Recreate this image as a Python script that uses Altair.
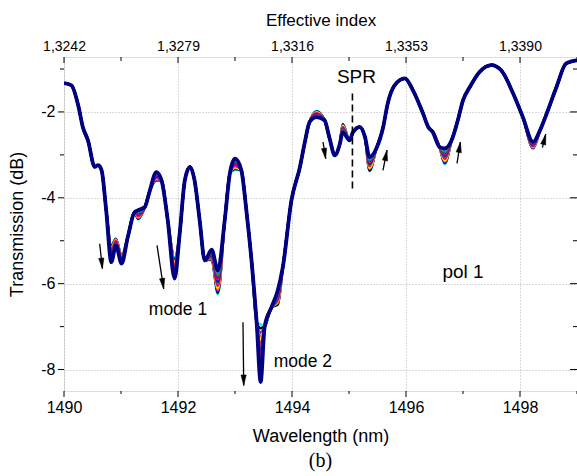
import math
import altair as alt
import pandas as pd

# ---------------- data ----------------
wavelength = [1490.00, 1490.13, 1490.25, 1490.33, 1490.42, 1490.54, 1490.60, 1490.66, 1490.74, 1490.83,
              1490.91, 1491.01, 1491.12, 1491.24, 1491.30, 1491.42, 1491.50, 1491.62, 1491.71, 1491.82,
              1491.94, 1492.03, 1492.12, 1492.21, 1492.29, 1492.38, 1492.47, 1492.59, 1492.70, 1492.82,
              1492.91, 1493.00, 1493.11, 1493.20, 1493.29, 1493.38, 1493.45, 1493.52, 1493.64, 1493.75,
              1493.84, 1493.99, 1494.14, 1494.22, 1494.31, 1494.43, 1494.57, 1494.66, 1494.75, 1494.84,
              1494.89, 1495.01, 1495.07, 1495.19, 1495.28, 1495.36, 1495.48, 1495.60, 1495.68, 1495.80,
              1495.98, 1496.12, 1496.30, 1496.39, 1496.47, 1496.59, 1496.68, 1496.80, 1496.91, 1497.00,
              1497.12, 1497.29, 1497.50, 1497.67, 1497.88, 1498.05, 1498.23, 1498.35, 1498.49, 1498.64,
              1498.81, 1499.00]

final_spectrum = [-1.33, -1.38, -1.85, -2.35, -2.66, -3.28, -3.24, -3.36, -4.29, -5.50,
                  -5.11, -5.53, -4.91, -4.33, -4.29, -4.21, -3.86, -3.40, -3.59, -4.52,
                  -5.88, -4.83, -3.59, -3.28, -3.59, -4.52, -5.46, -5.21, -5.69, -4.52,
                  -3.43, -3.09, -3.35, -4.30, -5.46, -6.90, -8.29, -7.00, -6.55, -6.16,
                  -5.61, -4.06, -3.28, -2.74, -2.23, -2.12, -2.19, -2.62, -3.01, -2.74,
                  -2.47, -2.66, -2.47, -2.35, -2.58, -3.05, -2.85, -2.35, -1.80, -1.38,
                  -1.22, -1.49, -2.04, -2.35, -2.47, -2.82, -2.85, -2.66, -2.19, -1.73,
                  -1.42, -1.07, -0.91, -1.03, -1.57, -2.12, -2.70, -2.43, -1.96, -1.42,
                  -0.87, -0.80]

# wavelengths where the earlier spectra differ from the final one
feature_wl = [1490.83, 1490.91, 1491.01, 1491.30, 1491.62, 1491.94, 1492.59, 1492.70,
              1493.00, 1493.45, 1493.75, 1494.43, 1494.89, 1495.36, 1496.68, 1498.23]

# values of the earlier spectra at those wavelengths (first spectrum -> later)
series_feature_values = [
    [-5.10, -4.95, -5.35, -4.50, -3.60, -5.40, -5.45, -6.25, -3.35, -6.95, -6.50, -1.98, -2.28, -3.38, -3.22, -2.85],
    [-5.13, -4.96, -5.36, -4.49, -3.59, -5.43, -5.43, -6.21, -3.33, -7.04, -6.48, -1.99, -2.29, -3.36, -3.19, -2.84],
    [-5.16, -4.97, -5.38, -4.47, -3.57, -5.47, -5.42, -6.17, -3.31, -7.14, -6.45, -2.00, -2.31, -3.33, -3.17, -2.83],
    [-5.18, -4.98, -5.39, -4.46, -3.56, -5.50, -5.40, -6.13, -3.30, -7.23, -6.43, -2.01, -2.32, -3.31, -3.14, -2.82],
    [-5.21, -5.00, -5.40, -4.44, -3.54, -5.53, -5.38, -6.09, -3.28, -7.33, -6.40, -2.02, -2.33, -3.29, -3.12, -2.81],
    [-5.24, -5.01, -5.41, -4.43, -3.53, -5.57, -5.37, -6.05, -3.26, -7.42, -6.38, -2.03, -2.35, -3.26, -3.09, -2.80],
    [-5.27, -5.02, -5.43, -4.41, -3.52, -5.60, -5.35, -6.01, -3.24, -7.51, -6.36, -2.04, -2.36, -3.24, -3.06, -2.79],
    [-5.30, -5.03, -5.44, -4.40, -3.50, -5.64, -5.33, -5.98, -3.22, -7.61, -6.33, -2.05, -2.37, -3.22, -3.04, -2.78],
    [-5.32, -5.04, -5.45, -4.38, -3.49, -5.67, -5.32, -5.94, -3.20, -7.70, -6.31, -2.06, -2.39, -3.20, -3.01, -2.77],
    [-5.35, -5.05, -5.46, -4.37, -3.47, -5.70, -5.30, -5.90, -3.19, -7.79, -6.29, -2.07, -2.40, -3.17, -2.99, -2.76],
    [-5.38, -5.06, -5.48, -4.35, -3.46, -5.74, -5.28, -5.86, -3.17, -7.89, -6.26, -2.08, -2.41, -3.15, -2.96, -2.75],
    [-5.41, -5.07, -5.49, -4.34, -3.45, -5.77, -5.27, -5.82, -3.15, -7.98, -6.24, -2.09, -2.43, -3.13, -2.94, -2.73],
    [-5.44, -5.08, -5.50, -4.32, -3.43, -5.80, -5.25, -5.78, -3.13, -8.08, -6.21, -2.10, -2.44, -3.10, -2.91, -2.72],
    [-5.46, -5.10, -5.51, -4.31, -3.42, -5.84, -5.23, -5.74, -3.11, -8.17, -6.19, -2.11, -2.45, -3.08, -2.88, -2.71],
]
series_colors = ["#00FFFF", "#000000", "#8000FF", "#FF8000", "#FFFF00", "#FF0000", "#FF00FF",
                 "#008000", "#0000FF", "#FF0080", "#800080", "#008080", "#808000", "#0080FF"]
final_color = "#000080"

major_wl = [1490, 1492, 1494, 1496, 1498]
minor_wl = [1491, 1493, 1495, 1497, 1499]
major_t = [-8, -6, -4, -2]
minor_t = [-7, -5, -3, -1]
top_tick_labels = ["1,3242", "1,3279", "1,3316", "1,3353", "1,3390"]

arrow_x0 = [1490.626, 1491.632, 1493.140, 1494.544, 1495.596, 1496.895, 1498.393]
arrow_y0 = [-5.07, -5.11, -6.90, -2.70, -3.36, -3.20, -2.83]
arrow_x1 = [1490.674, 1491.749, 1493.153, 1494.591, 1495.667, 1496.954, 1498.451]
arrow_y1 = [-5.65, -6.12, -8.37, -3.09, -2.89, -2.70, -2.52]

spr_wl = [1495.06]
spr_top = [-1.57]
spr_bottom = [-3.83]

label_text = ["SPR", "mode 1", "mode 2", "pol 1"]
label_wl = [1495.13, 1492.00, 1494.19, 1497.00]
label_t = [-1.18, -6.62, -7.83, -5.72]
label_size = [19, 17.5, 17.5, 19]

# ---------------- chart ----------------
W, H = 513, 334
X_DOM = [1490, 1499]
Y_DOM = [-8.5, -0.72]
FONT = "Liberation Sans"

xs = alt.Scale(domain=X_DOM, nice=False, zero=False)
ys = alt.Scale(domain=Y_DOM, nice=False, zero=False)

rows = []
for i, vals in enumerate(series_feature_values):
    spec = list(final_spectrum)
    for fw, v in zip(feature_wl, vals):
        spec[wavelength.index(fw)] = v
    for w, t in zip(wavelength, spec):
        rows.append({"wl": w, "t": t, "s": i})
df_series = pd.DataFrame(rows)
df_final = pd.DataFrame({"wl": wavelength, "t": final_spectrum})

grid_kw = dict(grid=True, gridDash=[1, 2], gridColor="#b5b5b5", gridWidth=1)
txt_kw = dict(labelFont=FONT, titleFont=FONT, labelColor="black", titleColor="black",
              titleFontWeight="normal", labelFontWeight="normal")

bottom_axis = alt.Axis(values=major_wl, format="d", ticks=False, domain=False,
                       labelPadding=8, labelFontSize=16, labelFlush=False, labelOverlap=False,
                       title="Wavelength (nm)", titleFontSize=18, titlePadding=12, **grid_kw, **txt_kw)
left_axis = alt.Axis(values=major_t, labelExpr="'' + datum.value", ticks=False, domain=False,
                     labelPadding=9, labelFontSize=16, labelFlush=False, labelOverlap=False,
                     title="Transmission (dB)", titleFontSize=18, titlePadding=14, **grid_kw, **txt_kw)

lines = alt.Chart(df_series).mark_line(clip=True, strokeWidth=2.6, interpolate="monotone").encode(
    x=alt.X("wl:Q", scale=xs, axis=bottom_axis),
    y=alt.Y("t:Q", scale=ys, axis=left_axis),
    color=alt.Color("s:N", scale=alt.Scale(domain=list(range(len(series_colors))), range=series_colors), legend=None),
)

final_line = alt.Chart(df_final).mark_line(clip=True, strokeWidth=3.8, color=final_color,
                                           interpolate="monotone").encode(
    x=alt.X("wl:Q", scale=xs, axis=None),
    y=alt.Y("t:Q", scale=ys, axis=None),
)

# top axis (effective index) with inward ticks
top_expr = "{" + ",".join(f"'{w}':'{l}'" for w, l in zip(major_wl, top_tick_labels)) + "}[''+datum.value]"
top_axis = alt.Axis(orient="top", values=major_wl, labelExpr=top_expr, ticks=False, domain=False, grid=False,
                    labelPadding=4, labelFontSize=14, labelFlush=False, labelOverlap=False,
                    title="Effective index", titleFontSize=17, titlePadding=10, **txt_kw)

df_major_x = pd.DataFrame({"v": major_wl})
df_minor_x = pd.DataFrame({"v": minor_wl})
df_major_y = pd.DataFrame({"v": major_t})
df_minor_y = pd.DataFrame({"v": minor_t})

def xticks(df, y0, y1, axis=None):
    return alt.Chart(df).mark_rule(color="black", strokeWidth=1).encode(
        x=alt.X("v:Q", scale=xs, axis=axis), y=alt.value(y0), y2=alt.value(y1))

def yticks(df, x0, x1):
    return alt.Chart(df).mark_rule(color="black", strokeWidth=1).encode(
        y=alt.Y("v:Q", scale=ys, axis=None), x=alt.value(x0), x2=alt.value(x1))

tick_layers = [
    xticks(df_major_x, 0, 6, axis=top_axis),
    xticks(df_minor_x, 0, 4),
    xticks(df_major_x, H, H + 6),
    xticks(df_minor_x, H, H + 3),
    yticks(df_major_y, -6, 0),
    yticks(df_minor_y, -4, 0),
    yticks(df_major_y, W - 7, W),
    yticks(df_minor_y, W - 4, W),
]

# SPR dashed marker
df_spr = pd.DataFrame({"x": spr_wl, "y0": spr_top, "y1": spr_bottom})
spr_line = alt.Chart(df_spr).mark_rule(color="black", strokeWidth=1.6, strokeDash=[7, 4]).encode(
    x=alt.X("x:Q", scale=xs, axis=None),
    y=alt.Y("y0:Q", scale=ys, axis=None), y2="y1:Q")

# arrows
px_wl = W / (X_DOM[1] - X_DOM[0])
px_t = H / (Y_DOM[1] - Y_DOM[0])
angles = []
for a, b, c, d in zip(arrow_x0, arrow_y0, arrow_x1, arrow_y1):
    dx = (c - a) * px_wl
    dy = -(d - b) * px_t
    angles.append(math.degrees(math.atan2(dx, -dy)) % 360)
df_arrow = pd.DataFrame({"x0": arrow_x0, "y0": arrow_y0, "x1": arrow_x1, "y1": arrow_y1, "ang": angles})
arrow_shaft = alt.Chart(df_arrow).mark_rule(color="black", strokeWidth=1.3).encode(
    x=alt.X("x0:Q", scale=xs, axis=None), y=alt.Y("y0:Q", scale=ys, axis=None),
    x2="x1:Q", y2="y1:Q")
arrow_head = alt.Chart(df_arrow).mark_point(
    shape="M0,0 L-0.5,2 L0.5,2 Z", filled=True, fill="black", stroke="black",
    size=110, opacity=1, fillOpacity=1, strokeWidth=0.5
).encode(
    x=alt.X("x1:Q", scale=xs, axis=None), y=alt.Y("y1:Q", scale=ys, axis=None),
    angle=alt.Angle("ang:Q", scale=None))

# text annotations
df_lab = pd.DataFrame({"txt": label_text, "x": label_wl, "y": label_t, "fs": label_size})
labels = alt.Chart(df_lab).mark_text(font=FONT, color="black", baseline="middle", align="center").encode(
    x=alt.X("x:Q", scale=xs, axis=None), y=alt.Y("y:Q", scale=ys, axis=None),
    text="txt:N", size=alt.Size("fs:Q", scale=None))

chart = alt.layer(
    lines, final_line, spr_line, arrow_shaft, arrow_head, labels, *tick_layers
).resolve_axis(x="independent", y="independent").properties(
    width=W, height=H,
    autosize=alt.AutoSizeParams(type="none"),
    padding={"left": 64, "top": 57, "right": 0, "bottom": 85},
    title=alt.TitleParams("(b)", orient="bottom", font="Liberation Serif", fontSize=20,
                          fontWeight="normal", anchor="middle", offset=6, color="black"),
).configure_view(stroke="black", strokeWidth=1).configure_axis(
    labelFont=FONT, titleFont=FONT, labelColor="black", titleColor="black", titleFontWeight="normal"
).configure(background="white")

chart.save("out.html", embed_options={"renderer": "svg", "actions": False})
